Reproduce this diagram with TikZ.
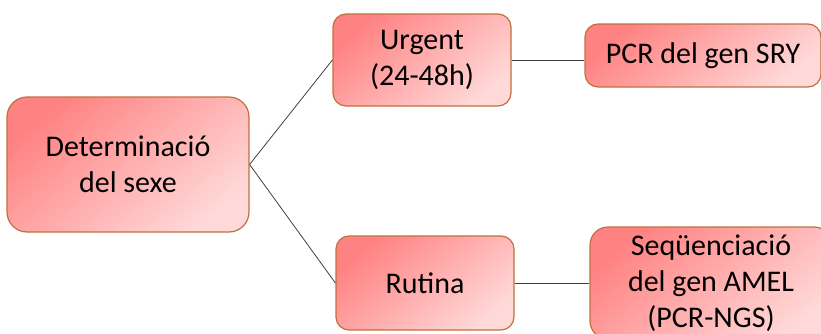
\documentclass[tikz,border=0pt]{standalone}
\usepackage{fontspec}
\setmainfont{Carlito}
\definecolor{boxdark}{HTML}{FF8282}
\definecolor{boxlight}{HTML}{FFD8D8}
\definecolor{boxedge}{HTML}{C0703C}
\definecolor{wiregray}{HTML}{404040}
\tikzset{
  sexbox/.style={draw=boxedge, rectangle, rounded corners=13pt, line width=1.2pt, top color=boxdark, bottom color=boxlight, shading angle=40, align=center, font=\fontsize{30}{36}\selectfont, inner sep=2pt},
  sexwire/.style={draw=wiregray, line width=0.8pt}
}

\begin{document}
\begin{tikzpicture}[x=1pt,y=1pt]
    \useasboundingbox (0,0) rectangle (821,333);
    \node[sexbox, minimum width=242pt, minimum height=135pt, rounded corners=20pt] (det) at (128,168.5) {Determinació\\del sexe} ;
    \node[sexbox, minimum width=178pt, minimum height=92pt] (urg) at (422,273) {Urgent\\(24-48h)} ;
    \node[sexbox, minimum width=178pt, minimum height=94pt] (rut) at (425,50) {Rutina} ;
    \node[sexbox, minimum width=236pt, minimum height=63pt] (pcr) at (703,277.5) {PCR del gen SRY} ;
    \node[sexbox, minimum width=242pt, minimum height=112pt, rounded corners=18pt] (seq) at (711,50) {Seqüenciació\\del gen AMEL\\(PCR-NGS)} ;

    \draw[sexwire] (det.east) -- (urg.west);
    \draw[sexwire] (det.east) -- (rut.west);
    \draw[sexwire] (urg.east) -- (urg.east -| pcr.west);
    \draw[sexwire] (rut.east) -- (seq.west);
  \end{tikzpicture}
\end{document}
